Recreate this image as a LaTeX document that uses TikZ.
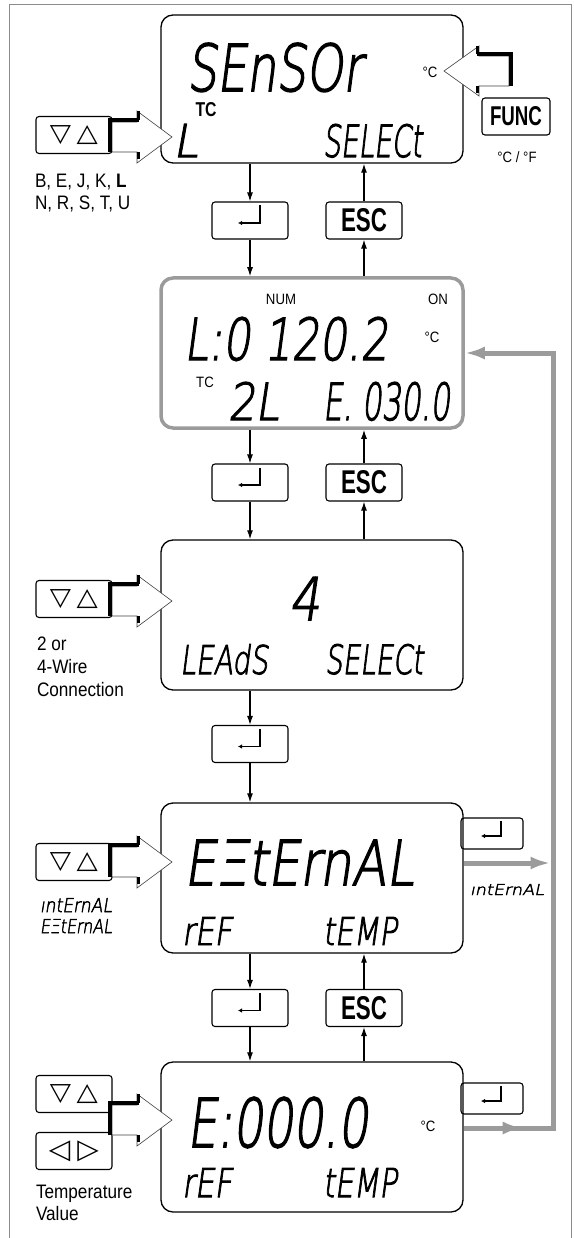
\documentclass[tikz,border=0pt]{standalone}
\usepackage{fontspec}
\usepackage{graphicx}
\setmainfont{Liberation Sans}
\newfontfamily\lab[FakeStretch=0.88]{Liberation Sans}
\newfontfamily\keyf{Liberation Sans}
\newfontfamily\sym{DejaVu Sans}
\IfFontExistsTF{DejaVu Sans ExtraLight}{\newfontfamily\lcdf[FakeSlant=0.18,FakeBold=2.5]{DejaVu Sans ExtraLight}}{%
 \IfFontExistsTF{DejaVuSans-ExtraLight.ttf}{\newfontfamily\lcdf[FakeSlant=0.18,FakeBold=2.5]{DejaVuSans-ExtraLight.ttf}}{%
  \IfFontExistsTF{Lato Light}{\newfontfamily\lcdf[FakeSlant=0.18]{Lato Light}}{%
   \newfontfamily\lcdf[FakeSlant=0.18]{Liberation Sans}}}}
\usetikzlibrary{arrows.meta}
\definecolor{grayline}{RGB}{155,155,155}
\definecolor{framec}{RGB}{140,140,140}
\newcommand\lcdtxt[3]{\resizebox{#1pt}{#2pt}{\lcdf #3}}
\newcommand\enterkey[3]{% node, half width, top offset
 \draw[line width=1.2pt, -{Latex[length=4pt,width=4.5pt]}] (#1.center) ++(#2,-#3) -- ++(0,{#3+2.5}) -- ++({-2*#2-2},0);}
\newcommand\hollowR[2]{%
 \filldraw[fill=white, draw=black!75, line width=0.6pt] ({#1},{#2-15}) -- ({#1+25},{#2-15}) -- ({#1+25},{#2-26}) -- ({#1+60},{#2}) -- ({#1+25},{#2+26}) -- ({#1+25},{#2+15}) -- ({#1},{#2+15}) -- cycle;
 \draw[line width=4pt] ({#1-2},{#2+15}) -- ({#1-2},{#2-17}) -- ({#1+27},{#2-17});
 \draw[line width=3.5pt] ({#1+26.5},{#2-26}) -- ({#1+26.5},{#2-17});
 \draw[line width=3pt] ({#1+26.5},{#2+15}) -- ({#1+26.5},{#2+22});
}
\newcommand\hollowL[2]{%
 \filldraw[fill=white, draw=black!75, line width=0.6pt] ({#1},{#2-15}) -- ({#1-30},{#2-15}) -- ({#1-30},{#2-25}) -- ({#1-65},{#2}) -- ({#1-30},{#2+25}) -- ({#1-30},{#2+15}) -- ({#1},{#2+15}) -- cycle;
 \draw[line width=4pt] ({#1+2},{#2+15}) -- ({#1+2},{#2-17}) -- ({#1-32},{#2-17});
 \draw[line width=3.5pt] ({#1-31.5},{#2-25}) -- ({#1-31.5},{#2-17});
 \draw[line width=3pt] ({#1-31.5},{#2+15}) -- ({#1-31.5},{#2+22});
}
\tikzset{
  lcdbox/.style={draw, line width=1.3pt, rounded corners=12pt, minimum width=302pt, minimum height=150pt, inner sep=0pt},
  keybox/.style={draw, line width=1.1pt, rounded corners=3pt, minimum width=76pt, minimum height=37pt, inner sep=0pt},
  smallkey/.style={keybox, minimum width=62pt, minimum height=31pt},
  flow/.style={-{Latex[length=9pt,width=6pt]}, line width=1.2pt},
  fb/.style={draw=grayline, line width=5pt},
  fbarrow/.style={fb, -{Latex[length=20pt,width=13pt]}},
  txt/.style={inner sep=0pt, outer sep=0pt},
  lcdpos/.style={txt, anchor=north west},
  labtxt/.style={txt, anchor=base west, font=\lab\fontsize{19.5}{22}\selectfont},
  small/.style={txt, font=\lab\fontsize{15}{15}\selectfont},
}
\begin{document}
\begin{tikzpicture}[x=1pt,y=-1pt]
\useasboundingbox (0,0) rectangle (573,1238);
% frame
\draw[framec, line width=1pt] (9,1238) -- (9,5) -- (571,5) -- (571,1238);

% displays
\node[lcdbox, minimum height=148pt] (D1) at (312,89) {};
\node[lcdbox, draw=grayline, line width=3.5pt] (D2) at (312,353) {};
\node[lcdbox] (D3) at (312,615) {};
\node[lcdbox] (D4) at (312,878) {};
\node[lcdbox] (D5) at (312,1137) {};

% feedback (gray)
\coordinate (vx) at (553,0);
\coordinate (vxin) at (550.5,0);
\path (D4.east) ++(0,-15) coordinate (g4);
\path (D5.east) ++(0,-9) coordinate (g5);
\path (g5) ++(59,0) coordinate (g5m);
\draw[fbarrow] (g4) -- (g4 -| vxin);
\draw[fbarrow] (g5) -- (g5 -| vx) -- (D2.east -| vx) -- (D2.east);
\draw[fbarrow] (g5) -- (g5m);

% keys
\node[keybox] (E1) at (250,220.5) {};
\node[keybox] (S1) at (364,220.5) {\resizebox{46pt}{23pt}{\keyf\bfseries ESC}};
\node[keybox] (E2) at (250,482.5) {};
\node[keybox] (S2) at (364,482.5) {\resizebox{46pt}{23pt}{\keyf\bfseries ESC}};
\node[keybox] (E3) at (250,744) {};
\node[keybox] (E4) at (250,1008) {};
\node[keybox] (S4) at (364,1008) {\resizebox{46pt}{23pt}{\keyf\bfseries ESC}};
\node[smallkey] (R4) at (492,833.5) {};
\node[smallkey] (R5) at (492,1098.5) {};
\enterkey{E1}{10}{15}
\enterkey{E2}{10}{15}
\enterkey{E3}{10}{15}
\enterkey{E4}{10}{15}
\enterkey{R4}{9}{13}
\enterkey{R5}{9}{13}
\node[keybox, minimum width=68pt] (F) at (516,116.5) {\resizebox{52pt}{19pt}{\keyf\bfseries FUNC}};
\node[keybox] (U1) at (74,135) {\resizebox*{48pt}{19pt}{\sym ▽\hspace{0.2em}△}};
\node[keybox] (U3) at (74,599) {\resizebox*{48pt}{19pt}{\sym ▽\hspace{0.2em}△}};
\node[keybox] (U4) at (74,862) {\resizebox*{48pt}{19pt}{\sym ▽\hspace{0.2em}△}};
\node[keybox] (U5) at (74,1094) {\resizebox*{48pt}{19pt}{\sym ▽\hspace{0.2em}△}};
\node[keybox] (LR5) at (74,1151) {\resizebox*{50pt}{21pt}{\sym ◁\hspace{0.25em}▷}};

% flow arrows
\draw[flow] (D1.south -| E1) -- (E1.north);
\draw[flow] (S1.north) -- (D1.south -| S1);
\draw[flow] (E1.south) -- (D2.north -| E1);
\draw[flow] (D2.north -| S1) -- (S1.south);
\draw[flow] (D2.south -| E2) -- (E2.north);
\draw[flow] (S2.north) -- (D2.south -| S2);
\draw[flow] (E2.south) -- (D3.north -| E2);
\draw[flow] (D3.north -| S2) -- (S2.south);
\draw[flow] (D3.south -| E3) -- (E3.north);
\draw[flow] (E3.south) -- (D4.north -| E3);
\draw[flow] (D4.south -| E4) -- (E4.north);
\draw[flow] (S4.north) -- (D4.south -| S4);
\draw[flow] (E4.south) -- (D5.north -| E4);
\draw[flow] (D5.north -| S4) -- (S4.south);

% hollow arrows
\hollowR{112}{137}
\hollowR{112}{601}
\hollowR{112}{862}
\hollowR{112}{1120}
\hollowL{509}{71}

% display 1
\node[lcdpos] (t1a) at (187,43) {\lcdtxt{175}{48}{SEnSOr}};
\node[txt] (t1b) at (206,110) {\resizebox{21pt}{14pt}{\keyf\bfseries TC}};
\node[lcdpos] (t1c) at (173,124) {\lcdtxt{25}{33}{L}};
\node[lcdpos] (t1d) at (323,124) {\lcdtxt{99}{33}{SELECt}};
\node[small] (t1e) at (430,72) {°C};
\node[labtxt] (l1a) at (35,188) {B, E, J, K, \textbf{L}};
\node[labtxt] (l1b) at (35,210) {N, R, S, T, U};
\node[small] (lf) at (517,157) {°C / °F};

% display 2
\node[small] (t2a) at (281,299) {NUM};
\node[small] (t2b) at (438,299) {ON};
\node[lcdpos] (t2c) at (184,317) {\lcdtxt{204}{43}{L:0 120.2}};
\node[small] (t2d) at (432,337) {°C};
\node[small] (t2e) at (205,382) {TC};
\node[lcdpos] (t2f) at (228,382) {\lcdtxt{51}{38}{2L}};
\node[lcdpos] (t2g) at (323,382) {\lcdtxt{127}{38}{E. 030.0}};

% display 3
\node[lcdpos] (t3a) at (289,577) {\lcdtxt{31}{43}{4}};
\node[lcdpos] (t3b) at (180,644) {\lcdtxt{88}{30}{LEAdS}};
\node[lcdpos] (t3c) at (325,644) {\lcdtxt{98}{30}{SELECt}};
\node[labtxt] (l3a) at (37,650) {2 or};
\node[labtxt] (l3b) at (37,673) {4-Wire};
\node[labtxt] (l3c) at (37,696) {Connection};

% display 4
\node[lcdpos] (t4a) at (184,840) {\lcdtxt{230}{45}{EΞtErnAL}};
\node[lcdpos] (t4b) at (182,917) {\lcdtxt{50}{28}{rEF}};
\node[lcdpos] (t4c) at (323,917) {\lcdtxt{74}{28}{tEMP}};
\node[lcdpos] (l4a) at (40,898) {\lcdtxt{72}{14}{ıntErnAL}};
\node[lcdpos] (l4b) at (40,919) {\lcdtxt{72}{14}{EΞtErnAL}};
\node[lcdpos] (l4c) at (470,884) {\lcdtxt{74}{11}{ıntErnAL}};

% display 5
\node[lcdpos] (t5a) at (187,1097) {\lcdtxt{181}{50}{E:000.0}};
\node[small] (t5b) at (428,1126) {°C};
\node[lcdpos] (t5c) at (182,1168) {\lcdtxt{50}{29}{rEF}};
\node[lcdpos] (t5d) at (323,1168) {\lcdtxt{74}{29}{tEMP}};
\node[labtxt] (l5a) at (36,1198) {Temperature};
\node[labtxt] (l5b) at (36,1220) {Value};
\end{tikzpicture}
\end{document}
